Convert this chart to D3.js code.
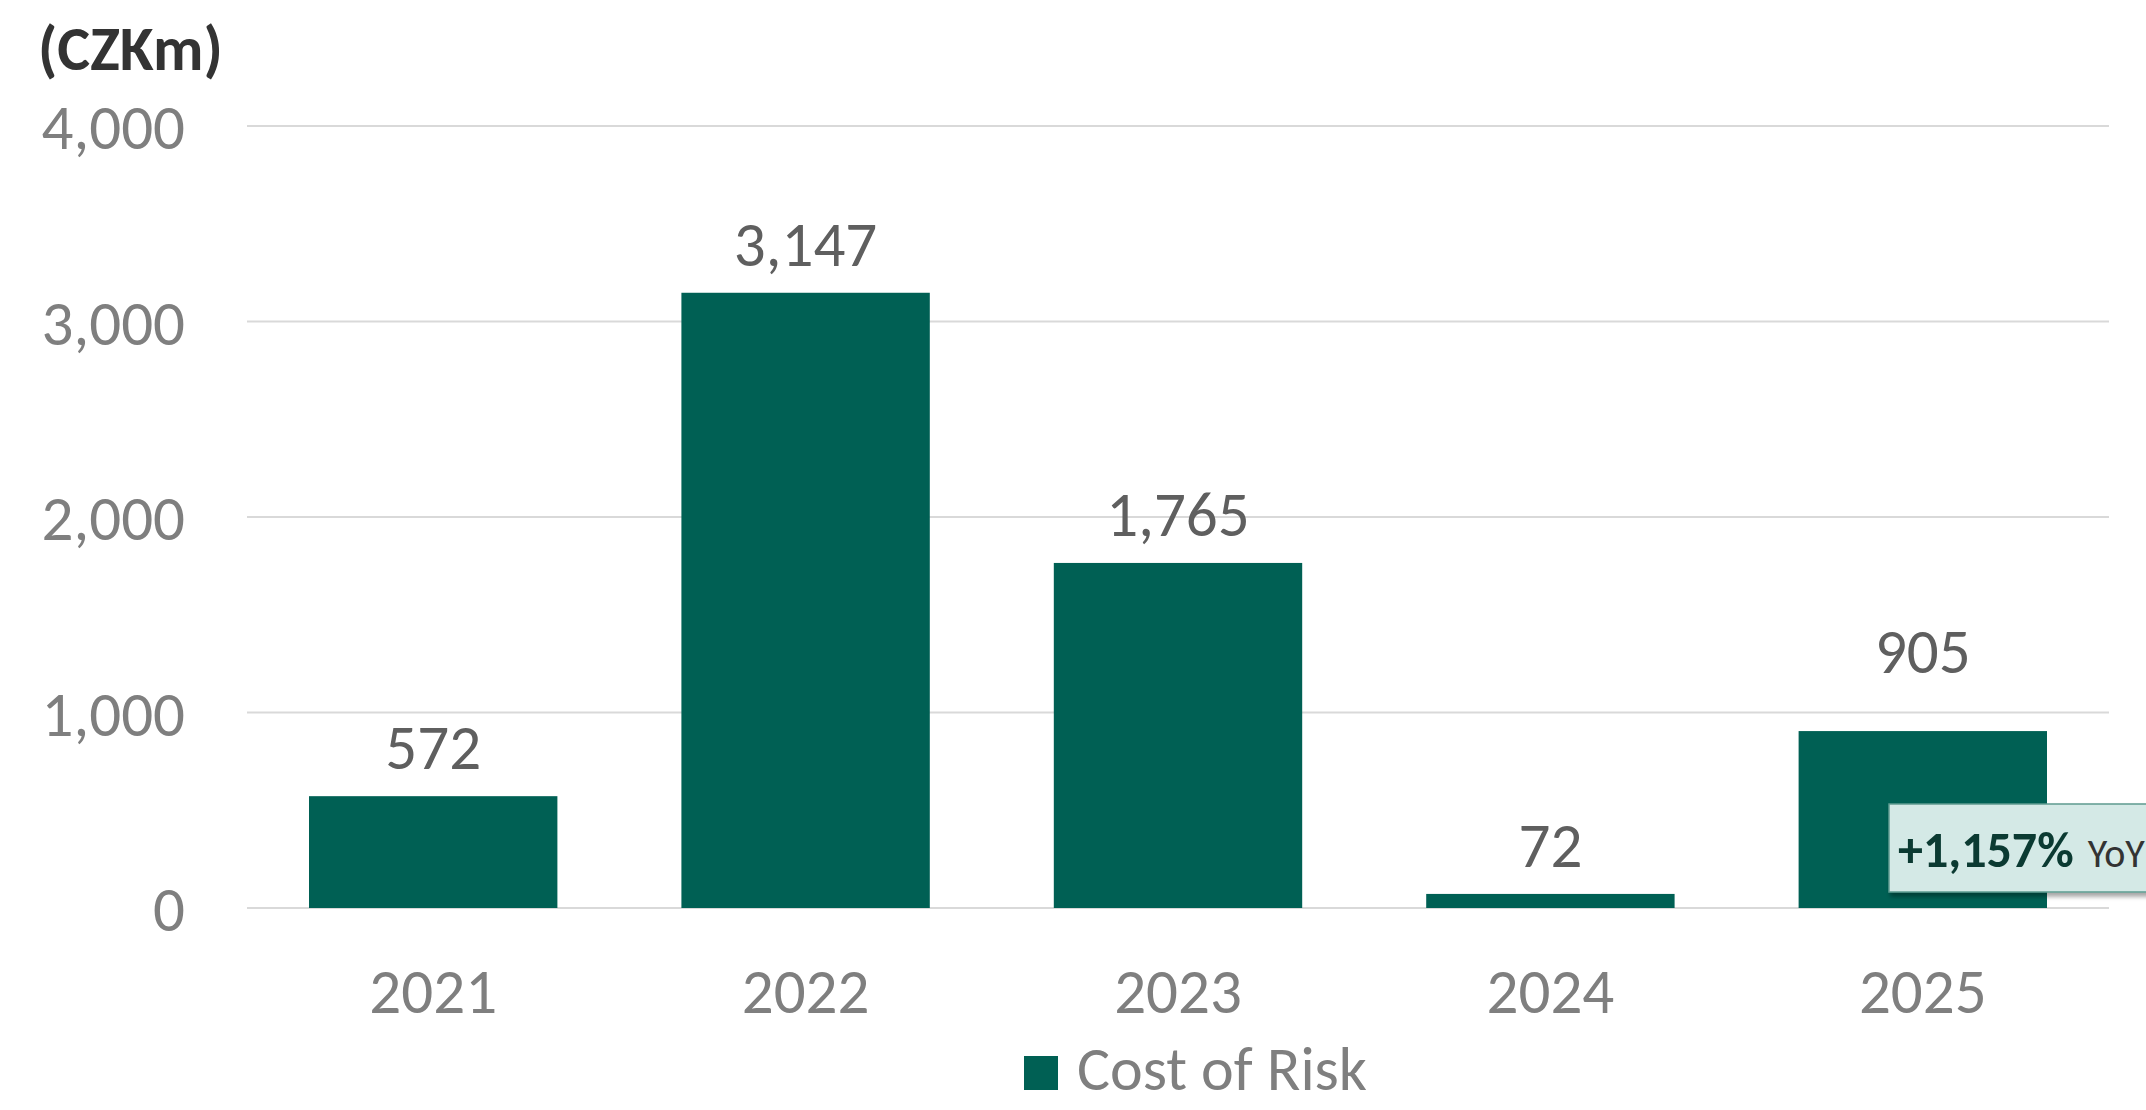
<!DOCTYPE html>
<html>
<head>
    <title>Cost of Risk</title>
    <style>
        body { margin: 0; background: #fff; }
        svg { display: block; font-family: Carlito, Calibri, Lato, "Open Sans", sans-serif; }
    </style>
</head>
<body>
    <div id="chart"></div>

    <script src="https://cdnjs.cloudflare.com/ajax/libs/d3/7.8.5/d3.min.js"></script>
    <script>
        // Data
        const years = ["2021", "2022", "2023", "2024", "2025"];
        const costOfRisk = [572, 3147, 1765, 72, 905];
        const yTicks = [0, 1000, 2000, 3000, 4000];
        const seriesName = "Cost of Risk";
        const unitLabel = "(CZKm)";
        const yoyChange = "+1,157%";
        const yoyText = "YoY";

        // Layout
        const width = 2146;
        const height = 1110;
        const margin = { top: 126, right: 37, bottom: 202, left: 247 };
        const barColor = "#006054";
        const fontSize = "63px";

        const svg = d3.select("#chart").append("svg")
            .attr("width", width)
            .attr("height", height);

        const defs = svg.append("defs");
        const shadow = defs.append("filter").attr("id", "shadow")
            .attr("x", "-10%").attr("y", "-10%").attr("width", "130%").attr("height", "150%");
        shadow.append("feDropShadow")
            .attr("dx", 2).attr("dy", 4).attr("stdDeviation", 2)
            .attr("flood-color", "#000").attr("flood-opacity", 0.35);

        const x = d3.scaleBand()
            .domain(years)
            .range([margin.left, width - margin.right])
            .paddingInner(0.333)
            .paddingOuter(0.1665);

        const y = d3.scaleLinear()
            .domain([0, 4000])
            .range([height - margin.bottom, margin.top]);

        // gridlines
        svg.append("g")
            .selectAll("line")
            .data(yTicks)
            .join("line")
            .attr("x1", margin.left)
            .attr("x2", width - margin.right)
            .attr("y1", d => y(d))
            .attr("y2", d => y(d))
            .attr("stroke", "#d9d9d9")
            .attr("stroke-width", 2);

        // y axis labels
        const yAxis = svg.append("g")
            .attr("transform", `translate(${margin.left - 62},0)`)
            .call(d3.axisLeft(y).tickValues(yTicks).tickFormat(d3.format(",")).tickSize(0).tickPadding(0));
        yAxis.select(".domain").remove();
        yAxis.selectAll("text")
            .attr("x", 0)
            .attr("dy", "0.36em")
            .attr("fill", "#7f7f7f")
            .style("font-size", fontSize)
            .style("font-family", "Carlito, Calibri, Lato, sans-serif");

        // x axis labels
        const xAxis = svg.append("g")
            .attr("transform", `translate(0,${y(0)})`)
            .call(d3.axisBottom(x).tickSize(0).tickPadding(0));
        xAxis.select(".domain").remove();
        xAxis.selectAll("text")
            .attr("y", 105)
            .attr("dy", 0)
            .attr("fill", "#7f7f7f")
            .style("font-size", fontSize)
            .style("font-family", "Carlito, Calibri, Lato, sans-serif");

        // bars
        svg.append("g")
            .selectAll("rect")
            .data(costOfRisk)
            .join("rect")
            .attr("x", (d, i) => x(years[i]))
            .attr("width", x.bandwidth())
            .attr("y", d => y(d))
            .attr("height", d => y(0) - y(d))
            .attr("fill", barColor);

        // data labels (2025 label sits above the 1,000 gridline)
        const labelLift = { "2025": 58 };
        svg.append("g")
            .selectAll("text")
            .data(costOfRisk)
            .join("text")
            .attr("x", (d, i) => x(years[i]) + x.bandwidth() / 2)
            .attr("y", (d, i) => y(d) - (labelLift[years[i]] || 27))
            .attr("text-anchor", "middle")
            .attr("fill", "#5f5f5f")
            .style("font-size", fontSize)
            .text(d3.format(","));

        // unit label
        svg.append("text")
            .attr("x", 38)
            .attr("y", 70)
            .attr("fill", "#333")
            .style("font-size", "62px")
            .style("font-weight", "bold")
            .text(unitLabel);

        // YoY callout
        const callout = svg.append("g").attr("transform", "translate(1889,804)");
        callout.append("rect")
            .attr("width", 320)
            .attr("height", 88)
            .attr("fill", "#d4e9e6")
            .attr("stroke", "#5d9b90")
            .attr("stroke-width", 1.5)
            .attr("filter", "url(#shadow)");
        const ct = callout.append("text")
            .attr("x", 9)
            .attr("y", 63);
        ct.append("tspan")
            .attr("fill", "#0b3a32")
            .style("font-size", "50px")
            .style("font-weight", "bold")
            .text(yoyChange);
        ct.append("tspan")
            .attr("dx", 14)
            .attr("fill", "#333")
            .style("font-size", "40px")
            .text(yoyText);

        // legend
        const legend = svg.append("g").attr("transform", "translate(1024,1056)");
        legend.append("rect")
            .attr("width", 34)
            .attr("height", 34)
            .attr("fill", barColor);
        legend.append("text")
            .attr("x", 53)
            .attr("y", 34)
            .attr("fill", "#7f7f7f")
            .style("font-size", "62px")
            .text(seriesName);
    </script>
</body>
</html>
